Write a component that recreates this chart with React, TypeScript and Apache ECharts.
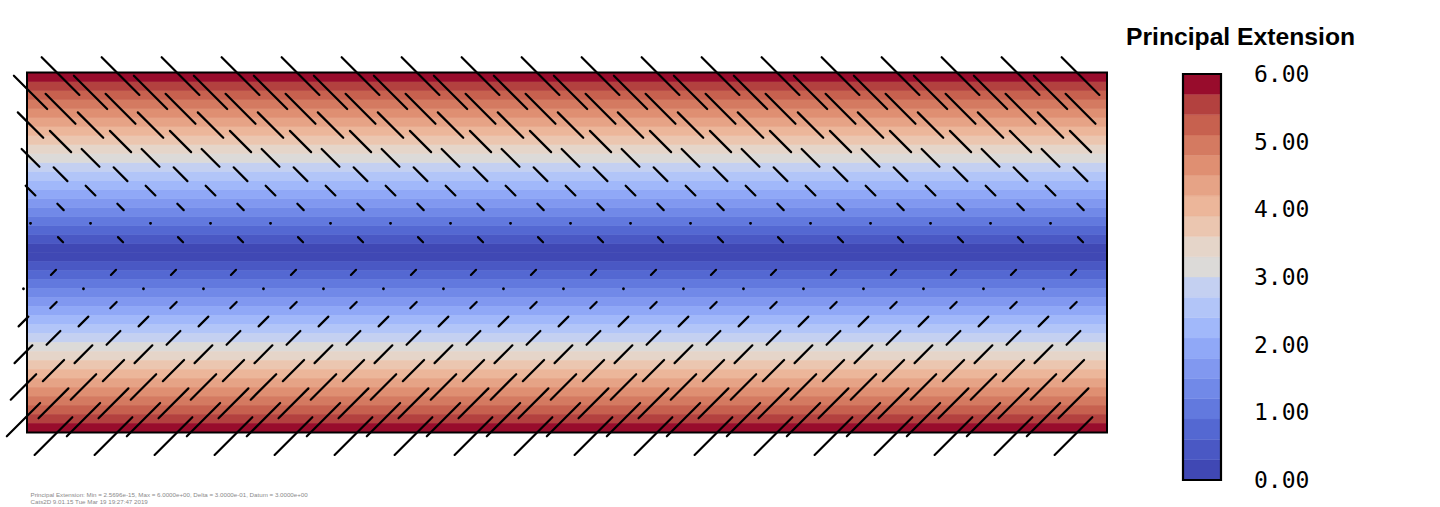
import React, { useEffect, useRef } from "react";
import * as echarts from "echarts";

// ---- data ----
const xDomain = [0, 36];
const yDomain = [-6, 6];
// contour levels (Delta = 0.3), value = principal extension
const levels = [0, 0.3, 0.6, 0.9, 1.2, 1.5, 1.8, 2.1, 2.4, 2.7, 3.0, 3.3, 3.6, 3.9, 4.2, 4.5, 4.8, 5.1, 5.4, 5.7, 6.0];
const bandColors = [
  "#4048b4", "#4a58c4", "#5468d2", "#6279de", "#7189e8",
  "#8198f0", "#90a8f7", "#a1b8fa", "#b2c5f8", "#c4d0f1",
  "#dcdad8", "#e5d5c9", "#ebc6b0", "#ecb69a", "#e6a386",
  "#df8f72", "#d47a61", "#c7614f", "#b3413f", "#980c2c",
];
const colorbarTicks = [0, 1, 2, 3, 4, 5, 6];
// rows of direction markers (data y), top to bottom
const rowY = [6.0, 5.455, 4.909, 4.364, 3.818, 3.273, 2.727, 2.182, 1.636, 1.091, 0.545, 0.0,
  -0.545, -1.091, -1.636, -2.182, -2.727, -3.273, -3.818, -4.364, -4.909, -5.455, -6.0];
// marker length per row (data units); null = no marker
const rowLength = [1.78, 1.57, 1.41, 1.2, 1.0, 0.84, 0.65, 0.46, 0.3, 0, 0.24, null,
  0.24, 0, 0.3, 0.46, 0.65, 0.84, 1.0, 1.2, 1.41, 1.57, 1.78];
// principal direction per row (degrees)
const rowAngle = [-45, -45, -45, -45, -45, -45, -45, -45, -45, -45, -45, 0,
  45, 45, 45, 45, 45, 45, 45, 45, 45, 45, 45];
const colsEven = [1, 3, 5, 7, 9, 11, 13, 15, 17, 19, 21, 23, 25, 27, 29, 31, 33, 35];
const colsOdd = [0, 2, 4, 6, 8, 10, 12, 14, 16, 18, 20, 22, 24, 26, 28, 30, 32, 34];
const titleText = "Principal Extension";
const footerLines = [
  "Principal Extension: Min = 2.5696e-15, Max = 6.0000e+00, Delta = 3.0000e-01, Datum = 3.0000e+00",
  "Cats2D 9.01.15 Tue Mar 19 19:27:47 2019",
];

export default function App() {
  const ref = useRef<HTMLDivElement>(null);
  useEffect(() => {
    if (!ref.current) return;
    const chart = echarts.init(ref.current, null, { renderer: "svg" });

    const bandData: number[][] = [];
    for (let k = 0; k < bandColors.length; k++) bandData.push([levels[k], levels[k + 1], k]);

    const vecData: number[][] = [];
    rowY.forEach((y, n) => {
      const len = rowLength[n];
      if (len === null || len === undefined) return;
      const cols = n % 2 === 0 ? colsEven : colsOdd;
      cols.forEach((x) => vecData.push([x, y, len, rowAngle[n]]));
    });

    const shiftPx = 5;

    chart.setOption({
      animation: false,
      grid: [
        { left: 27, top: 72.5, width: 1080, height: 360, show: false },
        { left: 1183, top: 74, width: 38, height: 406, show: false },
      ],
      xAxis: [
        { type: "value", gridIndex: 0, min: xDomain[0], max: xDomain[1], show: false },
        { type: "value", gridIndex: 1, min: 0, max: 1, show: false },
      ],
      yAxis: [
        { type: "value", gridIndex: 0, min: yDomain[0], max: yDomain[1], show: false },
        {
          type: "value", gridIndex: 1, min: colorbarTicks[0], max: colorbarTicks[colorbarTicks.length - 1],
          interval: 1, position: "right",
          axisLine: { show: false }, axisTick: { show: false }, splitLine: { show: false },
          axisLabel: {
            show: true, margin: 33, color: "#000", fontSize: 23,
            fontFamily: "DejaVu Sans Mono",
            formatter: (v: number) => v.toFixed(2),
          },
        },
      ],
      series: [
        {
          type: "custom", xAxisIndex: 0, yAxisIndex: 0, data: bandData, z: 1,
          renderItem: (_p: any, api: any) => {
            const lo = api.value(0), hi = api.value(1), k = api.value(2);
            const color = bandColors[k];
            const a1 = api.coord([xDomain[0], hi]);
            const a2 = api.coord([xDomain[1], lo]);
            const b1 = api.coord([xDomain[0], -lo]);
            const b2 = api.coord([xDomain[1], -hi]);
            return {
              type: "group",
              children: [
                { type: "rect", shape: { x: a1[0], y: a1[1], width: a2[0] - a1[0], height: a2[1] - a1[1] }, style: { fill: color, stroke: color, lineWidth: 0.6 } },
                { type: "rect", shape: { x: b1[0], y: b1[1], width: b2[0] - b1[0], height: b2[1] - b1[1] }, style: { fill: color, stroke: color, lineWidth: 0.6 } },
              ],
            };
          },
        },
        {
          type: "custom", xAxisIndex: 0, yAxisIndex: 0, data: [[0]], z: 3, clip: false,
          renderItem: (_p: any, api: any) => {
            const p1 = api.coord([xDomain[0], yDomain[1]]);
            const p2 = api.coord([xDomain[1], yDomain[0]]);
            return { type: "rect", shape: { x: p1[0], y: p1[1], width: p2[0] - p1[0], height: p2[1] - p1[1] }, style: { fill: "none", stroke: "#000", lineWidth: 2 } };
          },
        },
        {
          type: "custom", xAxisIndex: 0, yAxisIndex: 0, data: vecData, z: 4, clip: false,
          renderItem: (_p: any, api: any) => {
            const x = api.value(0), y = api.value(1), len = api.value(2), ang = api.value(3);
            const c = api.coord([x, y]);
            const half = api.size([len, 0])[0] / 2;
            const a = (ang * Math.PI) / 180;
            let dx = Math.cos(a), dy = -Math.sin(a);
            if (dy < 0) { dx = -dx; dy = -dy; }
            const cx = c[0] + shiftPx * dx, cy = c[1] + shiftPx * dy;
            if (half < 0.5) {
              return { type: "circle", shape: { cx, cy, r: 1.4 }, style: { fill: "#000" } };
            }
            return {
              type: "line",
              shape: { x1: cx - half * dx, y1: cy - half * dy, x2: cx + half * dx, y2: cy + half * dy },
              style: { stroke: "#000", lineWidth: 2.2, lineCap: "round" },
            };
          },
        },
        {
          type: "custom", xAxisIndex: 1, yAxisIndex: 1, data: bandData, z: 1,
          renderItem: (_p: any, api: any) => {
            const lo = api.value(0), hi = api.value(1), k = api.value(2);
            const color = bandColors[k];
            const p1 = api.coord([0, hi]);
            const p2 = api.coord([1, lo]);
            return { type: "rect", shape: { x: p1[0], y: p1[1], width: p2[0] - p1[0], height: p2[1] - p1[1] }, style: { fill: color, stroke: color, lineWidth: 0.4 } };
          },
        },
        {
          type: "custom", xAxisIndex: 1, yAxisIndex: 1, data: [[0]], z: 3, clip: false,
          renderItem: (_p: any, api: any) => {
            const p1 = api.coord([0, colorbarTicks[colorbarTicks.length - 1]]);
            const p2 = api.coord([1, colorbarTicks[0]]);
            return { type: "rect", shape: { x: p1[0], y: p1[1], width: p2[0] - p1[0], height: p2[1] - p1[1] }, style: { fill: "none", stroke: "#000", lineWidth: 2.2 } };
          },
        },
      ],
      graphic: [
        {
          type: "text", x: 1240.5, y: 36,
          style: {
            text: titleText, fill: "#000", fontSize: 24.7, fontWeight: "bold",
            fontFamily: "Liberation Sans", align: "center", verticalAlign: "middle",
            textAlign: "center", textVerticalAlign: "middle",
          },
        },
        ...footerLines.map((t, i) => ({
          type: "text", x: 30.5, y: 494.3 + i * 6.9,
          style: {
            text: t, fill: "#8a8a8a", fontSize: 6.2, fontFamily: "Liberation Sans",
            align: "left", verticalAlign: "middle", textAlign: "left", textVerticalAlign: "middle",
          },
        })),
      ],
    });
    return () => chart.dispose();
  }, []);
  return <div ref={ref} style={{ position: "absolute", left: 0, top: 0, width: 1440, height: 507 }} />;
}
